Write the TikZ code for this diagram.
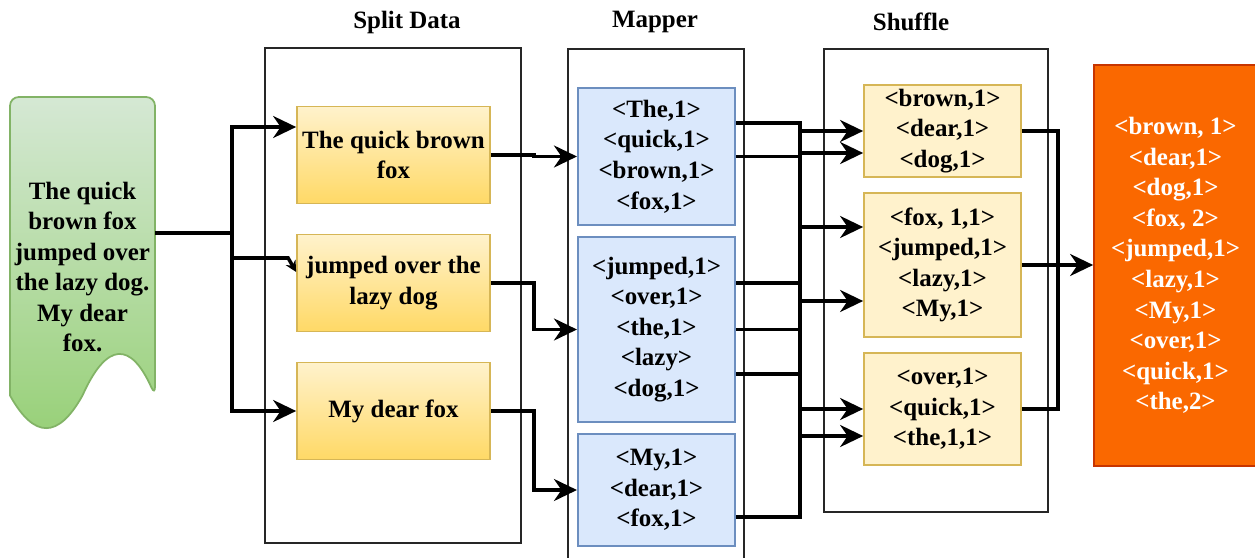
\documentclass[tikz,border=0pt]{standalone}
\usepackage{fontspec}
\setmainfont{Liberation Serif}
\usepackage{xcolor}
\usetikzlibrary{arrows.meta, positioning, calc}

\definecolor{doctop}{HTML}{D5E8D4}
\definecolor{docbot}{HTML}{97D077}
\definecolor{docline}{HTML}{82B366}
\definecolor{chunktop}{HTML}{FFF2CC}
\definecolor{chunkbot}{HTML}{FFD966}
\definecolor{chunkline}{HTML}{D6B656}
\definecolor{mapfill}{HTML}{DAE8FC}
\definecolor{mapline}{HTML}{6C8EBF}
\definecolor{outfill}{HTML}{FA6800}
\definecolor{outline}{HTML}{C73500}

\begin{document}
\begin{tikzpicture}[
x=0.02cm, y=-0.02cm,
font=\fontsize{14.2}{17.4}\selectfont\bfseries,
panel/.style={rectangle, draw=black!85, line width=1.2pt, inner sep=0pt},
title/.style={inner sep=0pt},
chunk/.style={rectangle, draw=chunkline, line width=1pt, top color=chunktop, bottom color=chunkbot, align=center, minimum width=3.86cm, minimum height=1.94cm, inner sep=2pt},
pairs/.style={rectangle, draw=mapline, fill=mapfill, line width=1.2pt, align=center, minimum width=3.14cm, inner sep=2pt},
group/.style={rectangle, draw=chunkline, fill=chunktop, line width=1pt, align=center, minimum width=3.14cm, inner sep=2pt},
wire/.style={line width=2pt},
arrow/.style={wire, -{Stealth[length=0.46cm, width=0.44cm, inset=0.15cm]}}
]

\useasboundingbox (0,0) rectangle (1255,558);

% input document
\shadedraw[top color=doctop, bottom color=docbot, draw=docline, line width=1pt]
  (10,395.5) [rounded corners=5pt] -- (10,97) -- (155,97) -- (155,395.5) [sharp corners]
  .. controls (130.8,341.5) and (106.7,341.5) .. (82.5,395.5)
  .. controls (58.3,439) and (34.2,439) .. (10,395.5) -- cycle;
\node[align=center, inner sep=0pt, minimum width=2.9cm] (doc) at (82.5,267)
  {The quick\\brown fox\\jumped over\\the lazy dog.\\My dear\\fox.};

% stage frames
\node[panel, minimum width=5.12cm, minimum height=9.9cm] (split) at (393,295.5) {};
\node[panel, minimum width=3.52cm, minimum height=10.52cm] (mapper) at (656,312) {};
\node[panel, minimum width=4.48cm, minimum height=9.26cm] (shuffle) at (936,280.5) {};

\node[title] (splitT) at (407,22) {Split Data};
\node[title] (mapperT) at (655,22) {Mapper};
\node[title] (shuffleT) at (911,22) {Shuffle};

\node[chunk] (line1) at (393.5,155) {The quick brown\\fox};
\node[chunk] (line2) at (393.5,283) {jumped over the\\lazy dog};
\node[chunk] (line3) at (393.5,411) {My dear fox};

\node[pairs, minimum height=2.74cm] (map1) at (656.5,156.5) {<The,1>\\<quick,1>\\<brown,1>\\<fox,1>};
\node[pairs, minimum height=3.7cm] (map2) at (656.5,329.5) {<jumped,1>\\<over,1>\\<the,1>\\<lazy>\\<dog,1>};
\node[pairs, minimum height=2.24cm] (map3) at (656.5,490) {<My,1>\\<dear,1>\\<fox,1>};

\node[group, minimum height=1.84cm] (grp1) at (942.5,131) {<brown,1>\\<dear,1>\\<dog,1>};
\node[group, minimum height=2.88cm] (grp2) at (942.5,265) {<fox, 1,1>\\<jumped,1>\\<lazy,1>\\<My,1>};
\node[group, minimum height=2.24cm] (grp3) at (942.5,409) {<over,1>\\<quick,1>\\<the,1,1>};

\node[rectangle, draw=outline, fill=outfill, line width=1pt, text=white, align=center,
  minimum width=3.26cm, minimum height=8.02cm] (result) at (1175.5,265.5)
  {<brown, 1>\\<dear,1>\\<dog,1>\\<fox, 2>\\<jumped,1>\\<lazy,1>\\<My,1>\\<over,1>\\<quick,1>\\<the,2>};

% split
\coordinate (fork) at (232,233);
\draw[wire] (doc.east |- fork) -- (fork);
\draw[arrow] (fork) |- ($(line1.west)+(0,-28)$);
\draw[wire, -{Stealth[length=0.22cm, width=0.22cm, inset=0.07cm]}] (fork) |- ($(line2.west)+(-8,-25)$) -- ($(line2.west)+(0,-11)$);
\draw[arrow] (fork) |- (line3.west);

\draw[arrow] (line1.east) -- ++(43,0) |- (map1.west);
\draw[arrow] (line2.east) -- ++(43,0) |- (map2.west);
\draw[arrow] (line3.east) -- ++(43,0) |- (map3.west);

% map outputs into the bus
\coordinate (bus) at (800,320);
\draw[wire] ($(map1.east)+(0,-33.5)$) -| (bus);
\draw[wire] ($(map3.east)+(0,27)$) -| (bus);
\draw[wire] ($(map2.east)+(0,-46.5)$) -| (bus);
\draw[wire] (map2.east) -| (bus);
\draw[wire] ($(map2.east)+(0,44.5)$) -| (bus);

% bus into the shuffle groups
\coordinate (in1b) at ($(grp1.west)+(0,22)$);
\coordinate (in2a) at ($(grp2.west)+(0,-38)$);
\coordinate (in2b) at ($(grp2.west)+(0,36)$);
\coordinate (in3b) at ($(grp3.west)+(0,27)$);
\draw[arrow] (map1.east) -- (map1.east -| bus) |- (in1b);
\draw[arrow] (bus |- grp1.west) -- (grp1.west);
\draw[arrow] (bus |- in2a) -- (in2a);
\draw[arrow] (bus |- in2b) -- (in2b);
\draw[arrow] (bus |- grp3.west) -- (grp3.west);
\draw[arrow] (bus |- in3b) -- (in3b);

% reduce
\coordinate (join) at (1058,265);
\draw[wire] (grp1.east) -| (join);
\draw[wire] (grp3.east) -| (join);
\draw[arrow] (grp2.east) -- (grp2.east -| result.west);

\end{tikzpicture}
\end{document}
